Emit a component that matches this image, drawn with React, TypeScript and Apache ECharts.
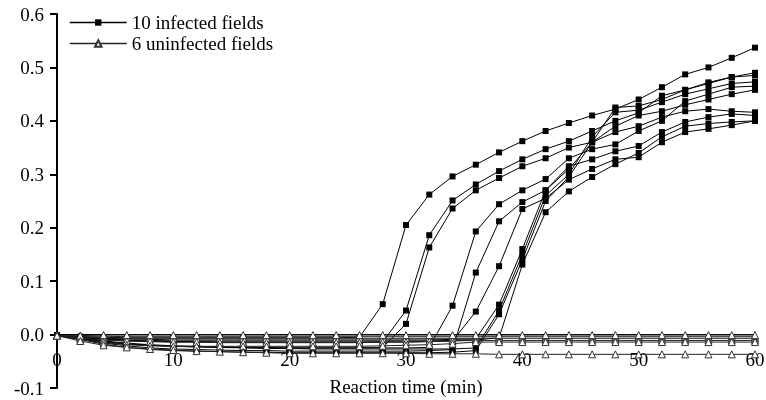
import React, { useEffect, useRef } from "react";
import * as echarts from "echarts";

const xs = [0, 2, 4, 6, 8, 10, 12, 14, 16, 18, 20, 22, 24, 26, 28, 30, 32, 34, 36, 38, 40, 42, 44, 46, 48, 50, 52, 54, 56, 58, 60];
const yTicks = [-0.1, 0, 0.1, 0.2, 0.3, 0.4, 0.5, 0.6];
const xTicks = [0, 10, 20, 30, 40, 50, 60];

const infectedName = "10 infected fields";
const uninfectedName = "6 uninfected fields";

const infA = [-0.002, -0.004, -0.005, -0.006, -0.006, -0.006, -0.006, -0.006, -0.006, -0.006, -0.006, -0.006, -0.006, -0.005, 0.057, 0.205, 0.262, 0.296, 0.318, 0.341, 0.362, 0.381, 0.396, 0.410, 0.422, 0.440, 0.463, 0.487, 0.500, 0.518, 0.537];
const infB = [-0.002, -0.006, -0.010, -0.012, -0.013, -0.014, -0.014, -0.015, -0.015, -0.015, -0.015, -0.015, -0.015, -0.015, -0.014, 0.045, 0.186, 0.251, 0.281, 0.306, 0.328, 0.347, 0.362, 0.381, 0.400, 0.415, 0.447, 0.458, 0.470, 0.482, 0.490];
const infC = [-0.002, -0.008, -0.014, -0.018, -0.020, -0.022, -0.023, -0.024, -0.024, -0.025, -0.025, -0.025, -0.025, -0.025, -0.024, 0.020, 0.163, 0.236, 0.270, 0.293, 0.315, 0.330, 0.350, 0.360, 0.379, 0.390, 0.407, 0.418, 0.422, 0.418, 0.416];
const infD = [-0.002, -0.006, -0.012, -0.016, -0.019, -0.021, -0.022, -0.023, -0.024, -0.024, -0.025, -0.025, -0.025, -0.025, -0.025, -0.025, -0.024, 0.054, 0.193, 0.244, 0.270, 0.291, 0.330, 0.347, 0.356, 0.381, 0.400, 0.437, 0.450, 0.463, 0.465];
const infE = [-0.002, -0.008, -0.016, -0.021, -0.025, -0.027, -0.028, -0.029, -0.030, -0.030, -0.031, -0.031, -0.031, -0.031, -0.031, -0.031, -0.030, -0.028, 0.116, 0.212, 0.248, 0.270, 0.315, 0.328, 0.343, 0.353, 0.379, 0.398, 0.407, 0.413, 0.410];
const infF = [-0.002, -0.005, -0.009, -0.011, -0.012, -0.013, -0.013, -0.014, -0.014, -0.014, -0.014, -0.014, -0.014, -0.014, -0.014, -0.014, -0.013, -0.012, 0.043, 0.128, 0.235, 0.255, 0.290, 0.310, 0.328, 0.332, 0.360, 0.379, 0.385, 0.392, 0.400];
const infG = [-0.002, -0.004, -0.007, -0.008, -0.009, -0.010, -0.010, -0.010, -0.010, -0.010, -0.010, -0.010, -0.010, -0.010, -0.010, -0.010, -0.010, -0.009, -0.008, 0.056, 0.160, 0.270, 0.310, 0.360, 0.425, 0.428, 0.440, 0.458, 0.472, 0.482, 0.485];
const infH = [-0.002, -0.007, -0.013, -0.017, -0.020, -0.022, -0.023, -0.024, -0.025, -0.026, -0.026, -0.027, -0.027, -0.027, -0.027, -0.027, -0.027, -0.027, -0.025, 0.045, 0.150, 0.260, 0.300, 0.370, 0.416, 0.420, 0.435, 0.450, 0.460, 0.470, 0.473];
const infI = [-0.002, -0.009, -0.018, -0.024, -0.028, -0.030, -0.031, -0.032, -0.033, -0.033, -0.034, -0.034, -0.034, -0.034, -0.034, -0.034, -0.034, -0.033, -0.030, 0.038, 0.140, 0.250, 0.295, 0.360, 0.390, 0.410, 0.418, 0.430, 0.440, 0.450, 0.458];
const infJ = [-0.002, -0.005, -0.008, -0.010, -0.011, -0.012, -0.012, -0.012, -0.012, -0.012, -0.012, -0.012, -0.012, -0.012, -0.012, -0.012, -0.012, -0.011, -0.010, -0.006, 0.131, 0.229, 0.268, 0.295, 0.319, 0.340, 0.370, 0.390, 0.395, 0.398, 0.400];

const unA = [-0.002, -0.003, -0.003, -0.004, -0.004, -0.004, -0.004, -0.004, -0.004, -0.004, -0.004, -0.004, -0.004, -0.004, -0.004, -0.004, -0.004, -0.004, -0.004, -0.004, -0.004, -0.004, -0.004, -0.004, -0.004, -0.004, -0.004, -0.004, -0.004, -0.004, -0.004];
const unB = [-0.002, -0.005, -0.006, -0.007, -0.007, -0.007, -0.007, -0.007, -0.007, -0.007, -0.007, -0.007, -0.007, -0.007, -0.007, -0.007, -0.007, -0.007, -0.007, -0.007, -0.007, -0.007, -0.007, -0.007, -0.007, -0.007, -0.007, -0.007, -0.007, -0.007, -0.007];
const unC = [-0.002, -0.007, -0.010, -0.012, -0.013, -0.014, -0.014, -0.015, -0.015, -0.015, -0.015, -0.015, -0.015, -0.015, -0.014, -0.014, -0.013, -0.012, -0.011, -0.011, -0.011, -0.011, -0.011, -0.011, -0.011, -0.011, -0.011, -0.011, -0.011, -0.011, -0.011];
const unD = [-0.002, -0.009, -0.015, -0.019, -0.021, -0.022, -0.022, -0.022, -0.022, -0.022, -0.022, -0.022, -0.022, -0.022, -0.021, -0.020, -0.019, -0.017, -0.014, -0.014, -0.014, -0.014, -0.014, -0.014, -0.014, -0.014, -0.014, -0.014, -0.014, -0.014, -0.014];
const unE = [-0.002, -0.002, -0.001, -0.001, -0.001, -0.001, -0.001, -0.001, -0.001, -0.001, -0.001, -0.001, -0.001, -0.001, -0.001, -0.001, -0.001, -0.001, -0.001, -0.001, -0.001, -0.001, -0.001, -0.001, -0.001, -0.001, -0.001, -0.001, -0.001, -0.001, -0.001];
const unF = [-0.002, -0.012, -0.020, -0.024, -0.027, -0.029, -0.031, -0.032, -0.033, -0.034, -0.035, -0.035, -0.035, -0.035, -0.035, -0.035, -0.036, -0.036, -0.036, -0.037, -0.037, -0.037, -0.037, -0.037, -0.037, -0.037, -0.037, -0.037, -0.037, -0.037, -0.037];

const infectedSets = [infA, infB, infC, infD, infE, infF, infG, infH, infI, infJ];
const uninfectedSets = [unA, unB, unC, unD, unE, unF];

const FONT = '"Liberation Serif", "Times New Roman", serif';

export default function App() {
  const ref = useRef<HTMLDivElement>(null);
  useEffect(() => {
    if (!ref.current) return;
    const chart = echarts.init(ref.current, null, { renderer: "svg" });
    const series: any[] = [];
    infectedSets.forEach((arr) => {
      series.push({
        type: "line",
        name: infectedName,
        data: xs.map((x, i) => [x, arr[i]]),
        symbol: "rect",
        symbolSize: 6,
        lineStyle: { color: "#000", width: 1 },
        itemStyle: { color: "#000" },
        z: 2,
        silent: true,
      });
    });
    uninfectedSets.forEach((arr) => {
      series.push({
        type: "line",
        name: uninfectedName,
        data: xs.map((x, i) => [x, arr[i]]),
        symbol: "triangle",
        symbolSize: 7,
        lineStyle: { color: "#222", width: 1 },
        itemStyle: { color: "#fff", borderColor: "#333", borderWidth: 1 },
        z: 3,
        silent: true,
      });
    });
    chart.setOption({
      animation: false,
      grid: { left: 57, right: 11, top: 14, bottom: 12, containLabel: false, outerBoundsMode: "none" },
      legend: {
        data: [infectedName, uninfectedName],
        orient: "vertical",
        left: 64,
        top: 8,
        itemWidth: 57,
        itemHeight: 8,
        itemGap: 2,
        lineStyle: { width: 1.5 },
        textStyle: { fontFamily: FONT, fontSize: 19, color: "#000", lineHeight: 19 },
      },
      xAxis: {
        type: "value",
        min: xTicks[0],
        max: xTicks[xTicks.length - 1],
        interval: 10,
        name: "Reaction time (min)",
        nameLocation: "middle",
        nameGap: 42,
        nameTextStyle: { fontFamily: FONT, fontSize: 19, color: "#000" },
        axisLine: { onZero: false, lineStyle: { color: "#000", width: 1 } },
        axisTick: { show: true, length: 5, lineStyle: { color: "#000" } },
        axisLabel: { fontFamily: FONT, fontSize: 19, color: "#000", margin: 15 },
        splitLine: { show: false },
      },
      yAxis: {
        type: "value",
        min: yTicks[0],
        max: yTicks[yTicks.length - 1],
        interval: 0.1,
        axisLine: { show: true, onZero: false, lineStyle: { color: "#000", width: 2 } },
        axisTick: { show: true, length: 7, lineStyle: { color: "#000", width: 2 } },
        axisLabel: {
          fontFamily: FONT,
          fontSize: 19,
          color: "#000",
          margin: 13,
          formatter: (v: number) => (Math.abs(v) < 1e-9 ? "0.0" : v.toFixed(1)),
        },
        splitLine: { show: false },
      },
      series,
    });
    // move the x axis up so it crosses the y axis at zero
    const yZero = chart.convertToPixel({ yAxisIndex: 0 }, 0) as number;
    const yMin = chart.convertToPixel({ yAxisIndex: 0 }, yTicks[0]) as number;
    chart.setOption({ xAxis: { offset: yZero - yMin } });
    return () => chart.dispose();
  }, []);
  return <div ref={ref} style={{ position: "fixed", left: 0, top: 0, width: 766, height: 400 }} />;
}
